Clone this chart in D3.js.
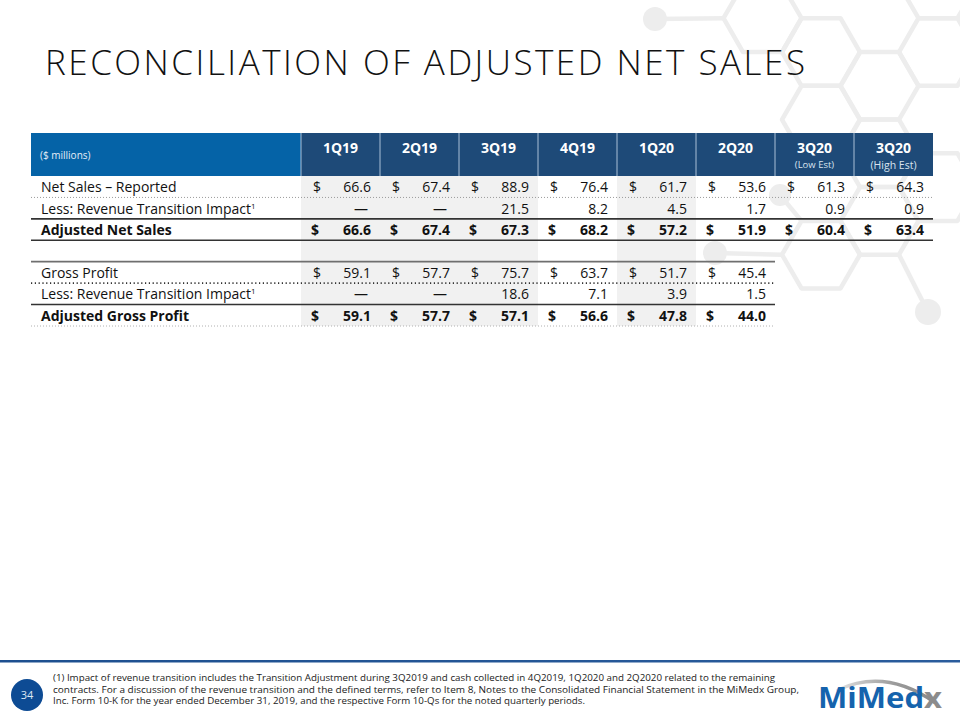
<!DOCTYPE html>
<html>
<head>
<meta charset="utf-8">
<script src="https://cdn.jsdelivr.net/npm/d3@7"></script>
<style>
  html, body { margin: 0; padding: 0; background: #ffffff; }
  svg { display: block; }
  text { font-family: "Open Sans", "Noto Sans", sans-serif; }
</style>
</head>
<body>
<script>
// ---------------- DATA ----------------
const quarters      = ["1Q19", "2Q19", "3Q19", "4Q19", "1Q20", "2Q20", "3Q20", "3Q20"];
const quarterNotes  = ["", "", "", "", "", "", "(Low Est)", "(High Est)"];
const netSalesReported   = [66.6, 67.4, 88.9, 76.4, 61.7, 53.6, 61.3, 64.3];
const netSalesTransition = [null, null, 21.5, 8.2, 4.5, 1.7, 0.9, 0.9];
const adjustedNetSales   = [66.6, 67.4, 67.3, 68.2, 57.2, 51.9, 60.4, 63.4];
const grossProfit        = [59.1, 57.7, 75.7, 63.7, 51.7, 45.4];
const grossTransition    = [null, null, 18.6, 7.1, 3.9, 1.5];
const adjustedGrossProfit= [59.1, 57.7, 57.1, 56.6, 47.8, 44.0];
const rowLabels = ["Net Sales – Reported", "Less: Revenue Transition Impact", "Adjusted Net Sales", "",
                   "Gross Profit", "Less: Revenue Transition Impact", "Adjusted Gross Profit"];
const shadedQuarters = [0, 1, 2, 4];
const titleText = "RECONCILIATION OF ADJUSTED NET SALES";
const unitsText = "($ millions)";
const pageNumber = "34";
const footnoteLines = [
  "(1) Impact of revenue transition includes the Transition Adjustment during 3Q2019 and cash collected in 4Q2019, 1Q2020 and 2Q2020 related to the remaining",
  "contracts. For a discussion of the revenue transition and the defined terms, refer to Item 8, Notes to the Consolidated Financial Statement in the MiMedx Group,",
  "Inc. Form 10-K for the year ended December 31, 2019, and the respective Form 10-Qs for the noted quarterly periods."
];

// ---------------- SETUP ----------------
const W = 960, H = 720;
const svg = d3.select("body").append("svg").attr("width", W).attr("height", H);

// ---------------- BACKGROUND HEXAGONS ----------------
const bg = svg.append("g").attr("stroke", "#ededed").attr("stroke-width", 4.5).attr("fill", "none")
  .attr("stroke-linejoin", "round");
const s = 39, hx0 = 821, hy0 = 52;
const hexCells = [[-1,-1],[0,0],[1,0],[2,0],[0,1],[1,1],[2,2],[1,2],[0,3],[2,-1]];
function hexCenter(c, r) {
  return [hx0 + c * 1.5 * s, hy0 + r * Math.sqrt(3) * s + (Math.abs(c) % 2 === 1 ? Math.sqrt(3) * s / 2 : 0)];
}
function hexPts(cx, cy) {
  return d3.range(6).map(i => [cx + s * Math.cos(Math.PI / 3 * i), cy + s * Math.sin(Math.PI / 3 * i)]);
}
hexCells.forEach(([c, r]) => {
  const [cx, cy] = hexCenter(c, r);
  bg.append("path").attr("d", d3.line()(hexPts(cx, cy)) + "Z");
});
// bonds + atoms
const bonds = [
  [[655, 19], hexPts(...hexCenter(-1, -1))[3]],
  [[715, 253], hexPts(...hexCenter(0, 3))[3]],
  [[780, 195], hexPts(...hexCenter(0, 3))[4]],
  [[928, 312], hexPts(...hexCenter(1, 2))[1]]
];
bonds.forEach(([a, b]) => bg.append("line").attr("x1", a[0]).attr("y1", a[1]).attr("x2", b[0]).attr("y2", b[1]));
[[655, 19, 12], [715, 253, 12], [780, 195, 11], [928, 312, 13]].forEach(([x, y, r]) =>
  svg.append("circle").attr("cx", x).attr("cy", y).attr("r", r).attr("fill", "#ededed"));

// ---------------- TITLE ----------------
svg.append("text").attr("x", 45).attr("y", 75)
  .attr("font-size", 35).attr("font-weight", 300).attr("fill", "#111")
  .attr("textLength", 760).attr("lengthAdjust", "spacing")
  .text(titleText);

// ---------------- TABLE ----------------
const tableLeft = 31, colStart = 301, colEnd = 933;
const x = d3.scaleBand().domain(d3.range(quarters.length)).range([colStart, colEnd]).padding(0);
const rowKeys = d3.range(rowLabels.length);
const y = d3.scaleBand().domain(rowKeys).range([176, 326]).padding(0);
const headTop = 133, headBottom = 176;

// shading of columns
shadedQuarters.forEach(i => {
  const lastRow = i < grossProfit.length ? 6 : 2;
  svg.append("rect").attr("x", x(i)).attr("y", y(0)).attr("width", x.bandwidth())
    .attr("height", y(lastRow) + y.bandwidth() - y(0)).attr("fill", "#f1f1f1");
});

// header
svg.append("rect").attr("x", tableLeft).attr("y", headTop).attr("width", colStart - tableLeft)
  .attr("height", headBottom - headTop).attr("fill", "#0563a7");
svg.append("rect").attr("x", colStart).attr("y", headTop).attr("width", colEnd - colStart)
  .attr("height", headBottom - headTop).attr("fill", "#1e4a78");
quarters.forEach((q, i) => {
  if (i > 0) svg.append("line").attr("x1", x(i)).attr("x2", x(i)).attr("y1", headTop).attr("y2", headBottom)
    .attr("stroke", "#a9bfd6").attr("stroke-width", 1);
  svg.append("text").attr("x", x(i) + x.bandwidth() / 2).attr("y", 152.5)
    .attr("text-anchor", "middle").attr("font-size", 14).attr("font-weight", 700).attr("fill", "#fff").text(q);
  if (quarterNotes[i]) svg.append("text").attr("x", x(i) + x.bandwidth() / 2).attr("y", i === 7 ? 168.5 : 167.5)
    .attr("text-anchor", "middle").attr("font-size", i === 7 ? 10.5 : 9.5).attr("fill", "#d9e3ef").text(quarterNotes[i]);
});
svg.append("line").attr("x1", colStart).attr("x2", colStart).attr("y1", headTop).attr("y2", headBottom)
  .attr("stroke", "#a9bfd6").attr("stroke-width", 1);
svg.append("text").attr("x", 40).attr("y", 158.5).attr("font-size", 10).attr("fill", "#e6eef7").text(unitsText);

// row labels
const boldRows = new Set([2, 6]);
rowLabels.forEach((lab, r) => {
  if (!lab) return;
  const t = svg.append("text").attr("x", 41).attr("y", y(r) + y.bandwidth() / 2 + 5.5)
    .attr("font-size", 14).attr("font-weight", boldRows.has(r) ? 700 : 400).attr("fill", "#111").text(lab);
  if (r === 1 || r === 5) t.append("tspan").attr("font-size", 8).attr("dy", -5).text("1");
});

// values
const fmt = d3.format(".1f");
const rows = [
  {r: 0, vals: netSalesReported, dollar: true},
  {r: 1, vals: netSalesTransition, dollar: false},
  {r: 2, vals: adjustedNetSales, dollar: true},
  {r: 4, vals: grossProfit, dollar: true},
  {r: 5, vals: grossTransition, dollar: false},
  {r: 6, vals: adjustedGrossProfit, dollar: true}
];
rows.forEach(({r, vals, dollar}) => {
  const bold = boldRows.has(r);
  const base = y(r) + y.bandwidth() / 2 + 5.5;
  vals.forEach((v, i) => {
    const g = svg.append("g").attr("font-size", 14).attr("font-weight", bold ? 700 : 400).attr("fill", "#111");
    if (dollar) g.append("text").attr("x", x(i) + (bold ? 10 : 12)).attr("y", base).text("$");
    if (v === null) {
      g.append("text").attr("x", x(i) + x.bandwidth() - 19).attr("y", base).attr("text-anchor", "middle").text("—");
    } else {
      g.append("text").attr("x", x(i) + x.bandwidth() - 9).attr("y", base).attr("text-anchor", "end").text(fmt(v));
    }
  });
});

// rules
const gpRight = x(grossProfit.length - 1) + x.bandwidth();
function rule(yy, x2, color, width, dash) {
  const l = svg.append("line").attr("x1", tableLeft).attr("x2", x2).attr("y1", yy).attr("y2", yy)
    .attr("stroke", color).attr("stroke-width", width);
  if (dash) l.attr("stroke-dasharray", dash);
}
rule(y(1), colEnd, "#9a9a9a", 1, "1,2");
rule(y(2), colEnd, "#333", 1.6);
rule(y(3), colEnd, "#333", 1.6);
rule(y(4), gpRight, "#6f6f6f", 1.8);
rule(y(5), gpRight, "#333", 1.6, "1.2,2.6");
rule(y(6), gpRight, "#333", 1.6);
rule(y(6) + y.bandwidth(), gpRight, "#b0b0b0", 1, "1,2");

// ---------------- FOOTER ----------------
const grad = svg.append("defs").append("linearGradient").attr("id", "fl");
grad.append("stop").attr("offset", "0%").attr("stop-color", "#1d4f8f");
grad.append("stop").attr("offset", "100%").attr("stop-color", "#2a5c9c");
svg.append("rect").attr("x", 0).attr("y", 660).attr("width", W).attr("height", 2.5).attr("fill", "url(#fl)");
svg.append("circle").attr("cx", 27).attr("cy", 695).attr("r", 16).attr("fill", "#0d4b94");
svg.append("text").attr("x", 27).attr("y", 699).attr("text-anchor", "middle").attr("font-size", 11)
  .attr("fill", "#dfe8f3").text(pageNumber);
const fnLens = [722, 746, 532];
footnoteLines.forEach((ln, i) => {
  svg.append("text").attr("x", 53).attr("y", 681 + i * 11.5).attr("font-size", 9.6).attr("fill", "#222")
    .attr("textLength", fnLens[i]).attr("lengthAdjust", "spacingAndGlyphs").text(ln);
});

// logo
const lg = svg.append("g");
const arcGrad = svg.select("defs").append("linearGradient").attr("id", "arcg");
arcGrad.append("stop").attr("offset", "0%").attr("stop-color", "#e0e0e0");
arcGrad.append("stop").attr("offset", "60%").attr("stop-color", "#9a9a9a");
arcGrad.append("stop").attr("offset", "100%").attr("stop-color", "#8a8a8a");
lg.append("path").attr("d", "M838,690 Q885,668 934,702").attr("fill", "none")
  .attr("stroke", "url(#arcg)").attr("stroke-width", 3.5).attr("stroke-linecap", "round");
const logoText = lg.append("text").attr("x", 818).attr("y", 708).attr("font-size", 29).attr("font-weight", 700)
  .attr("font-family", "'Liberation Sans Narrow', 'Arial Narrow', 'Liberation Sans', sans-serif")
  .attr("textLength", 124).attr("lengthAdjust", "spacingAndGlyphs");
logoText.append("tspan").attr("fill", "#1563ad").text("MiMed");
logoText.append("tspan").attr("fill", "#8c8c8c").text("x");
</script>
</body>
</html>
